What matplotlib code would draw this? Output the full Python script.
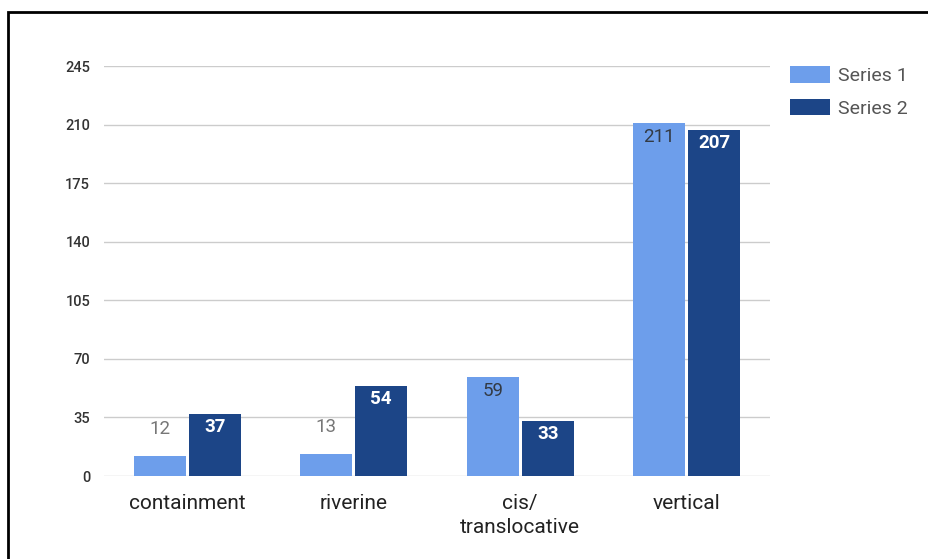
import matplotlib.pyplot as plt
import matplotlib.patches as mpatches
import numpy as np

plt.rcParams['font.family'] = ['Roboto', 'DejaVu Sans']

categories = ['containment', 'riverine', 'cis/\ntranslocative', 'vertical']
series1 = [12, 13, 59, 211]
series2 = [37, 54, 33, 207]
yticks = [0, 35, 70, 105, 140, 175, 210, 245]

c1 = '#6d9eeb'
c2 = '#1c4587'

fig = plt.figure(figsize=(9.29, 5.59), dpi=100)
ax = fig.add_axes([104 / 929, 83 / 559, 666 / 929, 410 / 559])

x = np.arange(len(categories))
w = 0.313
gap = 0.009
b1 = ax.bar(x - w / 2 - gap, series1, w, color=c1, label='Series 1', zorder=3)
b2 = ax.bar(x + w / 2 + gap, series2, w, color=c2, label='Series 2', zorder=3)

# value labels: inside the bar top if tall enough, else above it
for rect, v in zip(b1, series1):
    cx = rect.get_x() + rect.get_width() / 2
    if v > 30:
        ax.annotate(str(v), (cx, v), xytext=(0, -10), textcoords='offset points',
                    ha='center', va='center', fontsize=13.5, color='#333a44', zorder=4)
    else:
        ax.annotate(str(v), (cx, v), xytext=(0, 19.5), textcoords='offset points',
                    ha='center', va='center', fontsize=13.5, color='#777777', zorder=4)
for rect, v in zip(b2, series2):
    cx = rect.get_x() + rect.get_width() / 2
    ax.annotate(str(v), (cx, v), xytext=(0, -9.5), textcoords='offset points',
                ha='center', va='center', fontsize=13.5, color='white',
                fontweight='bold', zorder=4)

ax.set_xlim(-0.5, len(categories) - 0.5)
ax.set_ylim(0, 245)
ax.set_yticks(yticks)
ax.set_yticklabels([str(t) for t in yticks], fontsize=10.5, color='#333333',
                   fontweight='medium')
ax.set_xticks(x)
ax.set_xticklabels(categories, fontsize=15, color='#222222', linespacing=1.35)
ax.tick_params(axis='both', length=0)
ax.tick_params(axis='y', pad=10)
ax.tick_params(axis='x', pad=13)
ax.grid(axis='y', color='#cccccc', linewidth=1, zorder=0)
for s in ax.spines.values():
    s.set_visible(False)

leg = ax.legend(loc='upper left', bbox_to_anchor=(1.018, 1.018), frameon=False,
                fontsize=14, handlelength=2.06, handleheight=0.93, labelspacing=0.7,
                handletextpad=0.4, borderaxespad=0)
for t in leg.get_texts():
    t.set_color('#555555')

# outer black frame (cropped at right and bottom)
frame = mpatches.Rectangle((8 / 929, -0.1), 1.2, (559 - 12) / 559 + 0.1,
                           transform=fig.transFigure, fill=False,
                           edgecolor='black', linewidth=2)
fig.patches.append(frame)

fig.savefig('out.png', dpi=100)
